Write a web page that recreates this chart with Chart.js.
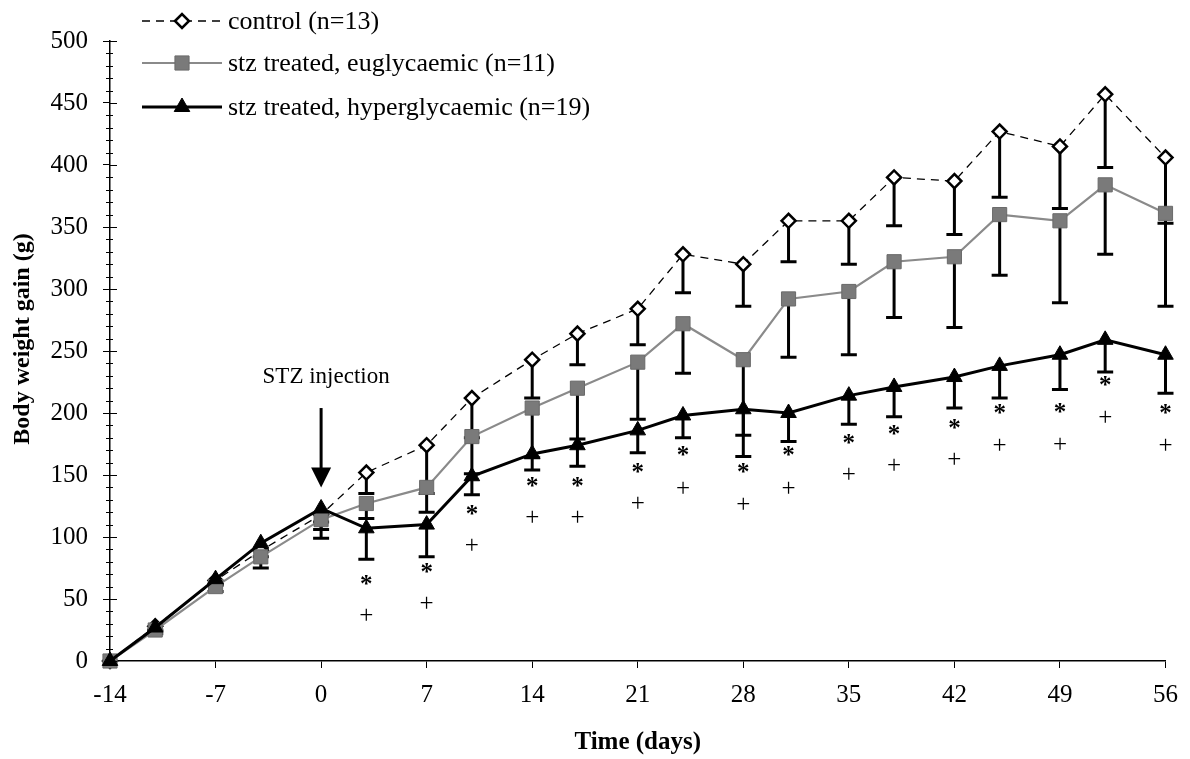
<!DOCTYPE html>
<html>
<head>
<meta charset="utf-8">
<script src="https://cdn.jsdelivr.net/npm/chart.js@4.4.1/dist/chart.umd.min.js"></script>
<style>
  html, body { margin: 0; padding: 0; background: #ffffff; }
  #wrap { width: 1190px; height: 759px; position: relative; }
</style>
</head>
<body>
<div id="wrap"><canvas id="c" width="1190" height="759"></canvas></div>
<script>
// ---------------- DATA ----------------
const days = [-14, -11, -7, -4, 0, 3, 7, 10, 14, 17, 21, 24, 28, 31, 35, 38, 42, 45, 49, 52, 56];

const controlMean = [0, 28, 65, 89, 118, 152, 174, 212, 243, 264, 284, 328, 320, 355, 355, 390, 387, 427, 415, 457, 406];
const controlSD   = [0, 3, 4, 5, 6, 17, 39, 32, 31, 25, 29, 31, 34, 33, 35, 39, 43, 53, 50, 59, 53];

const euglyMean = [0, 25, 60, 84, 114, 127, 140, 181, 204, 220, 241, 272, 243, 292, 298, 322, 326, 360, 355, 384, 361];
const euglySD   = [0, 3, 4, 9, 8, 12, 20, 30, 40, 41, 46, 40, 78, 47, 51, 45, 57, 49, 66, 56, 75];

const hyperMean = [0, 27, 66, 95, 123, 107, 110, 149, 167, 174, 186, 198, 203, 200, 214, 221, 229, 238, 247, 259, 247];
const hyperSD   = [0, 3, 4, 5, 24, 25, 26, 15, 13, 17, 18, 18, 21, 23, 23, 24, 25, 26, 28, 26, 31];

const sigDays    = [3, 7, 10, 14, 17, 21, 24, 28, 31, 35, 38, 42, 45, 49, 52, 56];
const starLevel  = [65, 75, 122, 144, 144, 156, 169, 156, 169, 179, 186, 191, 203, 204, 226, 203];
const plusLevel  = [36, 46, 93, 115, 115, 127, 139, 126, 139, 150, 157, 162, 173, 174, 196, 173];

const xTickValues = [-14, -7, 0, 7, 14, 21, 28, 35, 42, 49, 56];
const yTickValues = [0, 50, 100, 150, 200, 250, 300, 350, 400, 450, 500];

const seriesLabels = ['control (n=13)', 'stz treated, euglycaemic (n=11)', 'stz treated, hyperglycaemic (n=19)'];
const xTitle = 'Time (days)';
const yTitle = 'Body weight gain (g)';
const injectionText = 'STZ injection';
const injectionDay = 0;
const injectionTextLevel = 229;
const arrowStartLevel = 204;
const arrowTipLevel = 140;

// ---------------- STYLE ----------------
const SERIF = '"Liberation Serif", "Times New Roman", serif';
const GREY = '#8a8a8a';

const toPoints = (arr) => days.map((d, i) => ({ x: d, y: arr[i] }));

const datasets = [
  {
    label: seriesLabels[0], data: toPoints(controlMean), order: 2, clip: false,
    borderColor: '#000', borderWidth: 1.3, borderDash: [8, 6],
    pointStyle: 'rectRot', pointRadius: 7, pointBackgroundColor: '#fff',
    pointBorderColor: '#000', pointBorderWidth: 2.5, tension: 0
  },
  {
    label: seriesLabels[1], data: toPoints(euglyMean), order: 1, clip: false,
    borderColor: GREY, borderWidth: 2.2,
    pointStyle: 'rect', pointRadius: 10, pointBackgroundColor: '#7a7a7a',
    pointBorderColor: '#6a6a6a', pointBorderWidth: 1, tension: 0
  },
  {
    label: seriesLabels[2], data: toPoints(hyperMean), order: 0, clip: false,
    borderColor: '#000', borderWidth: 3,
    pointStyle: 'triangle', pointRadius: 9, pointBackgroundColor: '#000',
    pointBorderColor: '#000', pointBorderWidth: 1, tension: 0
  }
];

const errorGroups = [
  { mean: controlMean, sd: controlSD },
  { mean: euglyMean, sd: euglySD },
  { mean: hyperMean, sd: hyperSD }
];

const overlay = {
  id: 'overlay',
  beforeDatasetsDraw(chart) {
    const { ctx, scales: { x, y } } = chart;
    ctx.save();
    ctx.strokeStyle = '#000';
    ctx.lineWidth = 3;
    ctx.lineCap = 'butt';
    errorGroups.forEach(g => {
      days.forEach((d, i) => {
        if (!g.sd[i]) return;
        const px = x.getPixelForValue(d);
        const p0 = y.getPixelForValue(g.mean[i]);
        const p1 = y.getPixelForValue(g.mean[i] - g.sd[i]);
        ctx.beginPath();
        ctx.moveTo(px, p0); ctx.lineTo(px, p1);
        ctx.moveTo(px - 8, p1); ctx.lineTo(px + 8, p1);
        ctx.stroke();
      });
    });
    ctx.restore();
  },
  afterDraw(chart) {
    const { ctx, scales: { x, y } } = chart;
    const axisX = x.left;
    ctx.save();
    // minor & inner y ticks
    ctx.strokeStyle = '#000';
    ctx.lineWidth = 1;
    for (let v = 10; v < 500; v += 10) {
      if (v % 50 === 0) continue;
      const py = Math.round(y.getPixelForValue(v)) + 0.5;
      ctx.beginPath(); ctx.moveTo(axisX - 4, py); ctx.lineTo(axisX + 3, py); ctx.stroke();
    }
    yTickValues.forEach(v => {
      const py = Math.round(y.getPixelForValue(v)) + 0.5;
      ctx.beginPath(); ctx.moveTo(axisX, py); ctx.lineTo(axisX + 7, py); ctx.stroke();
    });

    // y axis title
    ctx.save();
    ctx.fillStyle = '#000';
    ctx.font = 'bold 24px ' + SERIF;
    ctx.textAlign = 'center';
    ctx.textBaseline = 'middle';
    ctx.translate(23, (y.top + y.bottom) / 2 - 12);
    ctx.rotate(-Math.PI / 2);
    ctx.fillText(yTitle, 0, 0);
    ctx.restore();

    // significance marks
    ctx.fillStyle = '#000';
    ctx.textAlign = 'center';
    ctx.textBaseline = 'alphabetic';
    sigDays.forEach((d, i) => {
      const px = x.getPixelForValue(d);
      ctx.font = 'bold 25px ' + SERIF;
      ctx.fillText('*', px, y.getPixelForValue(starLevel[i]) + 12);
      ctx.font = '25px ' + SERIF;
      ctx.fillText('+', px, y.getPixelForValue(plusLevel[i]) + 7);
    });

    // STZ injection annotation
    const ax = x.getPixelForValue(injectionDay);
    ctx.font = '23px ' + SERIF;
    ctx.textBaseline = 'middle';
    ctx.fillText(injectionText, ax + 5, y.getPixelForValue(injectionTextLevel));
    const yStart = y.getPixelForValue(arrowStartLevel);
    const yTip = y.getPixelForValue(arrowTipLevel);
    ctx.lineWidth = 3;
    ctx.beginPath(); ctx.moveTo(ax, yStart); ctx.lineTo(ax, yTip - 15); ctx.stroke();
    ctx.beginPath();
    ctx.moveTo(ax - 10, yTip - 20); ctx.lineTo(ax + 10, yTip - 20); ctx.lineTo(ax, yTip);
    ctx.closePath(); ctx.fill();

    // legend
    const rows = [21, 63, 107];
    const lx0 = 142, lx1 = 222, mx = 182, tx = 228;
    datasets.forEach((ds, i) => {
      const ry = rows[i];
      ctx.save();
      ctx.strokeStyle = ds.borderColor;
      ctx.lineWidth = ds.borderWidth;
      ctx.setLineDash(ds.borderDash || []);
      ctx.beginPath(); ctx.moveTo(lx0, ry); ctx.lineTo(lx1, ry); ctx.stroke();
      ctx.restore();
      ctx.save();
      ctx.fillStyle = ds.pointBackgroundColor;
      ctx.strokeStyle = ds.pointBorderColor;
      ctx.lineWidth = ds.pointBorderWidth;
      Chart.helpers.drawPoint(ctx, {
        pointStyle: ds.pointStyle, radius: ds.pointRadius, rotation: 0,
        borderWidth: ds.pointBorderWidth
      }, mx, ry);
      ctx.restore();
      ctx.fillStyle = '#000';
      ctx.font = '26px ' + SERIF;
      ctx.textAlign = 'left';
      ctx.textBaseline = 'middle';
      ctx.fillText(ds.label, tx, ry + 1);
    });
    ctx.restore();
  }
};

new Chart(document.getElementById('c'), {
  type: 'line',
  data: { datasets },
  options: {
    responsive: false,
    animation: false,
    devicePixelRatio: 1,
    layout: { padding: { top: 41, right: 17, left: 0, bottom: 0 } },
    plugins: { legend: { display: false }, tooltip: { enabled: false } },
    scales: {
      x: {
        type: 'linear', min: -14, max: 56,
        afterBuildTicks: s => { s.ticks = xTickValues.map(v => ({ value: v })); },
        afterFit: s => { s.height = 98; },
        ticks: { color: '#000', font: { family: SERIF, size: 25 }, padding: 12, autoSkip: false, maxRotation: 0 },
        grid: { drawOnChartArea: false, drawTicks: true, tickLength: 7, color: '#000', tickWidth: 1 },
        border: { display: true, color: '#000', width: 1.5 },
        title: { display: true, text: xTitle, color: '#000', font: { family: SERIF, size: 25, weight: 'bold' }, padding: { top: 0, bottom: 1 } }
      },
      y: {
        min: 0, max: 500,
        afterBuildTicks: s => { s.ticks = yTickValues.map(v => ({ value: v })); },
        afterFit: s => { s.width = 110; },
        ticks: { color: '#000', font: { family: SERIF, size: 25 }, padding: 15 },
        grid: { drawOnChartArea: false, drawTicks: true, tickLength: 7, color: '#000', tickWidth: 1 },
        border: { display: true, color: '#000', width: 1.5 }
      }
    }
  },
  plugins: [overlay]
});
</script>
</body>
</html>
